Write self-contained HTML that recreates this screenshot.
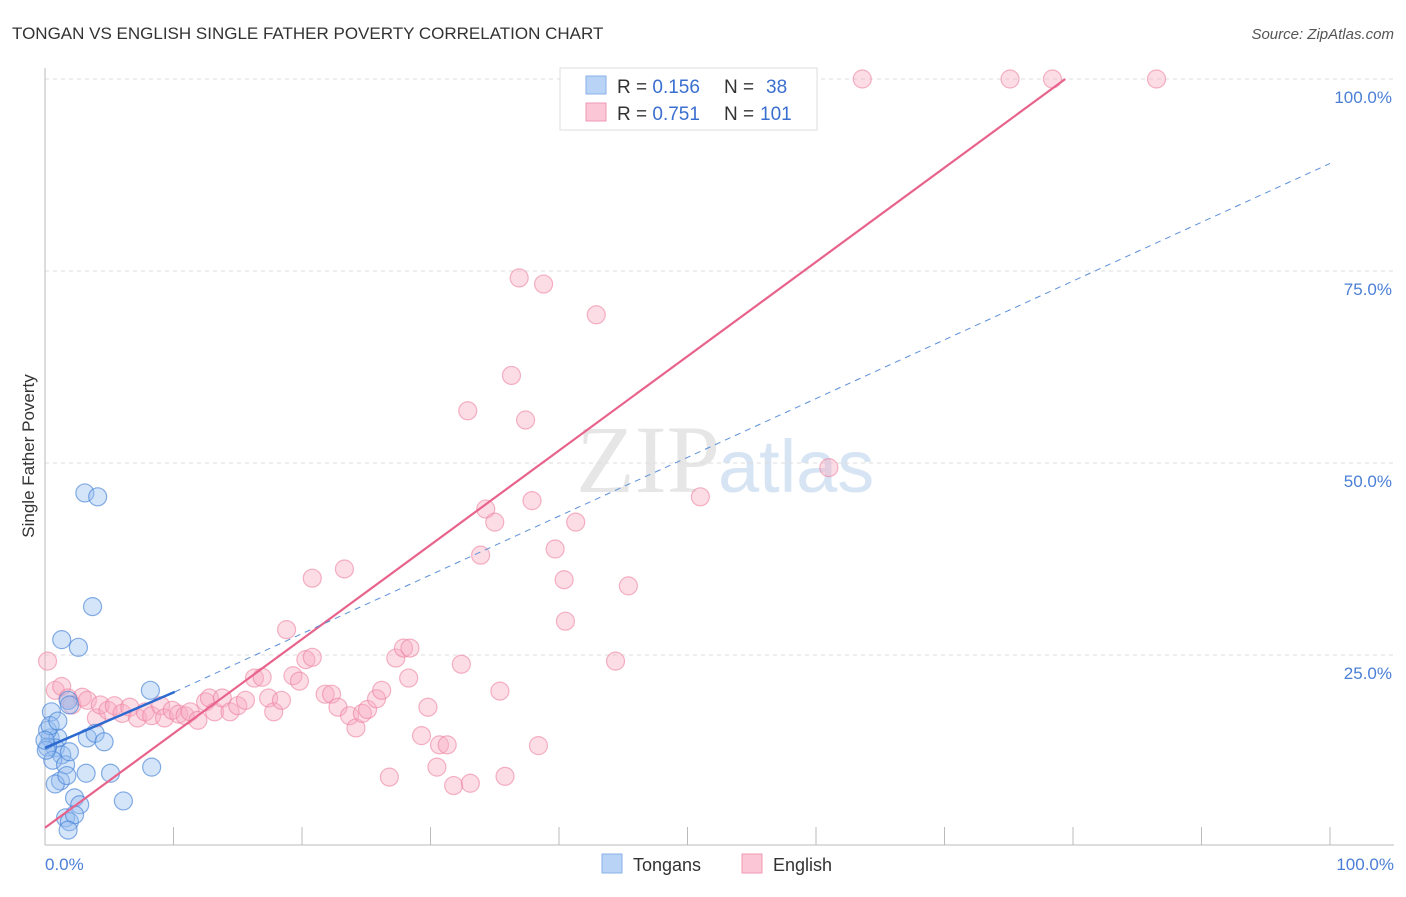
<!DOCTYPE html>
<html><head><meta charset="utf-8"><style>
body{margin:0;background:#fff;font-family:"Liberation Sans",sans-serif;}
</style></head><body>
<svg width="1406" height="892" xmlns="http://www.w3.org/2000/svg" font-family="Liberation Sans, sans-serif">
<text x="12" y="39" font-size="17" fill="#333">TONGAN VS ENGLISH SINGLE FATHER POVERTY CORRELATION CHART</text>
<text x="1394" y="39" font-size="15" fill="#555" text-anchor="end" font-style="italic">Source: ZipAtlas.com</text>
<text x="720" y="492" font-size="96" fill="#e6e6e6" text-anchor="end" font-family="Liberation Serif, serif">ZIP</text>
<text x="718" y="492" font-size="74" fill="#d6e4f4">atlas</text>
<g id="grid"></g>
<line x1="45" y1="68" x2="45" y2="845" stroke="#bbb"/>
<line x1="45" y1="845" x2="1394" y2="845" stroke="#bbb"/>
<text transform="translate(34,456) rotate(-90)" font-size="17" fill="#333" text-anchor="middle">Single Father Poverty</text>
<text x="45" y="870" font-size="17" fill="#4a7fd6">0.0%</text>
<text x="1394" y="870" font-size="17" fill="#4a7fd6" text-anchor="end">100.0%</text>
<g id="pts"></g>
<g id="lines"></g>
<g>
<rect x="560" y="68" width="257" height="62" fill="#fff" stroke="#ddd"/>
<rect x="586" y="76" width="20" height="18" fill="#b8d3f5" stroke="#88b0e6"/>
<rect x="586" y="103" width="20" height="18" fill="#fbc6d5" stroke="#f09ab4"/>
<text x="617" y="93" font-size="19" fill="#333">R = <tspan fill="#3a6fd0">0.156</tspan><tspan x="724">N = </tspan><tspan fill="#3a6fd0" x="766">38</tspan></text>
<text x="617" y="120" font-size="19" fill="#333">R = <tspan fill="#3a6fd0">0.751</tspan><tspan x="724">N = </tspan><tspan fill="#3a6fd0" x="760">101</tspan></text>
</g>
<g>
<rect x="602" y="854" width="20" height="19" fill="#b8d3f5" stroke="#88b0e6"/>
<text x="633" y="871" font-size="18" fill="#333">Tongans</text>
<rect x="742" y="854" width="20" height="19" fill="#fbc6d5" stroke="#f09ab4"/>
<text x="773" y="871" font-size="18" fill="#333">English</text>
</g>
</svg>
<script>
const yTicks=[25,50,75,100];
const xTicks=[10,20,30,40,50,60,70,80,90,100];
const tonganX=[1.3,2.6,3.1,4.1,3.7,1.8,8.2,0.5,0.4,1.0,0.8,1.3,0.2,0.6,1.6,1.9,3.3,3.9,4.6,1.2,0.8,1.7,3.2,5.1,8.3,2.3,2.7,6.1,1.6,1.9,2.3,1.8,0.2,0.1,0.4,1.0,1.9,0.0];
const tonganY=[27.0,26.0,46.1,45.6,31.3,19.1,20.4,17.6,14.2,14.2,12.9,12.0,13.0,11.3,10.7,12.4,14.2,14.8,13.7,8.6,8.2,9.3,9.6,9.6,10.4,6.4,5.5,6.0,3.8,3.3,4.2,2.2,15.2,12.6,15.8,16.4,18.5,13.9];
const englishX=[0.2,0.8,1.3,1.8,2.1,2.9,3.3,4.0,4.3,4.9,5.4,6.0,6.6,7.2,7.8,8.3,9.0,9.3,9.9,10.4,10.9,11.3,11.9,12.5,12.8,13.2,13.8,14.4,15.0,15.6,16.3,16.9,17.4,17.8,18.4,18.8,19.3,19.8,20.3,20.8,20.8,21.8,22.3,22.8,23.3,23.7,24.2,24.7,25.1,25.8,26.2,26.8,27.3,27.9,28.4,28.3,29.3,29.8,30.5,30.7,31.3,31.8,32.4,32.9,33.1,33.9,34.3,35.0,35.4,35.8,36.3,36.9,37.4,37.9,38.4,38.8,39.7,40.4,40.5,41.3,42.9,44.4,45.4,51.0,61.0,41.0,46.3,47.9,53.9,56.4,63.6,75.1,78.4,86.5,43.2,41.2,48.3,46.7];
const englishY=[24.2,20.4,20.9,19.4,18.5,19.5,19.1,16.8,18.5,17.8,18.4,17.4,18.2,16.8,17.6,17.1,18.4,16.8,17.8,17.3,17.1,17.6,16.5,18.9,19.4,17.6,19.4,17.6,18.4,19.1,22.0,22.1,19.4,17.6,19.1,28.3,22.3,21.6,24.4,24.7,35.0,19.9,19.9,18.2,36.2,17.1,15.5,17.4,17.9,19.3,20.4,9.1,24.6,25.9,25.9,22.0,14.5,18.2,10.4,13.3,13.3,8.0,23.8,56.8,8.3,38.0,44.0,42.3,20.3,9.2,61.4,74.1,55.6,45.1,13.2,73.3,38.8,34.8,29.4,42.3,69.3,24.2,34.0,45.6,49.4,100,100,100,100,100,100,100,100,100,100,100,100,100];
const X=v=>45+v*12.85, Y=v=>847-v*7.68;
const NS="http://www.w3.org/2000/svg";
const grid=document.getElementById('grid');
function mk(t,a,p){const e=document.createElementNS(NS,t);for(const k in a)e.setAttribute(k,a[k]);p.appendChild(e);return e;}
yTicks.forEach(t=>{
 const l=mk('line',{x1:45,x2:1394,y1:Y(t),y2:Y(t),stroke:'#ddd','stroke-dasharray':'4,4'},grid);
 
 
 const tx=mk('text',{x:1392,y:Y(t)+24,'font-size':17,fill:'#4a7fd6','text-anchor':'end'},grid);
 tx.textContent=t.toFixed(1)+'%';
 
 
});
xTicks.forEach(t=>{
 const l=mk('line',{x1:X(t),x2:X(t),y1:827,y2:845,stroke:'#bbb'},grid);
 
 
});
const pts=document.getElementById('pts');
englishX.forEach((x,i)=>{
 const c=mk('circle',{cx:X(x),cy:Y(englishY[i]),r:9,fill:'rgba(248,170,192,0.4)',stroke:'rgba(236,130,160,0.6)','stroke-width':1.2},pts);
 
 
});
tonganX.forEach((x,i)=>{
 const c=mk('circle',{cx:X(x),cy:Y(tonganY[i]),r:9,fill:'rgba(150,190,240,0.4)',stroke:'rgba(70,130,215,0.65)','stroke-width':1.2},pts);
 
 
});
const lines=document.getElementById('lines');
let l=mk('line',{x1:X(0),y1:Y(2.5),x2:X(79.4),y2:Y(100),stroke:'#e8638c','stroke-width':2.2},lines);


l=mk('line',{x1:X(10.1),y1:Y(20.2),x2:X(100),y2:Y(89),stroke:'#5b8fd8','stroke-width':1,'stroke-dasharray':'6,5'},lines);


l=mk('line',{x1:X(0),y1:Y(12.9),x2:X(10.1),y2:Y(20.2),stroke:'#2c6ad0','stroke-width':2.5},lines);


</script>
</body></html>
